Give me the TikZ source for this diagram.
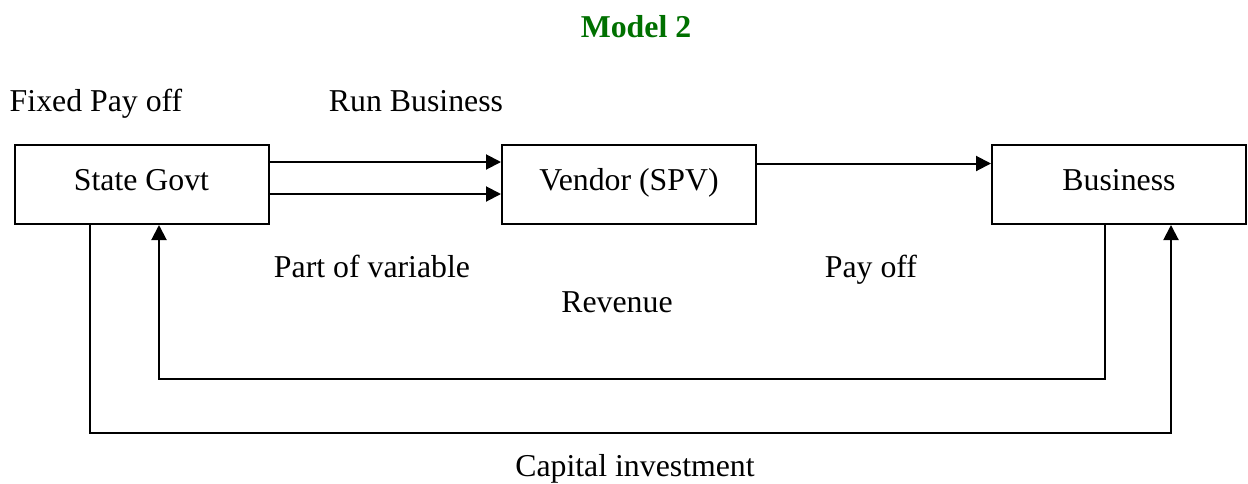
\documentclass[tikz,border=0pt]{standalone}
\usepackage{fontspec}
\setmainfont{Liberation Serif}
\usetikzlibrary{arrows.meta}
\definecolor{titlegreen}{RGB}{0,112,0}
\begin{document}
\begin{tikzpicture}[x=0.5pt,y=-0.5pt,font=\fontsize{15.9}{19}\selectfont]
        \tikzstyle{party}=[draw,line width=1pt,minimum width=127pt,minimum height=39.5pt,inner sep=0pt,text height=11pt,text depth=5.2pt]
        \tikzstyle{label}=[inner sep=0pt,text height=11pt,text depth=3.5pt]
        \tikzstyle{flow}=[draw,line width=1pt,-{Triangle[length=7.5pt,width=7.5pt]}]
        \useasboundingbox (0,0) rectangle (1248,483);
        \node [label,font=\fontsize{15.9}{19}\selectfont\bfseries,text=titlegreen] (title) at (636,30) {Model 2};
        \node [party] (sg) at (141.5,184.5) {State Govt};
        \node [party] (vd) at (629,184.5) {Vendor (SPV)};
        \node [party] (bz) at (1119,184.5) {Business};
        \node [label] (fixed) at (96,104) {Fixed Pay off};
        \node [label] (run) at (416,104) {Run Business};
        \node [label] (part) at (372,270) {Part of variable};
        \node [label] (payoff) at (871,270) {Pay off};
        \node [label] (rev) at (617,305) {Revenue};
        \node [label] (cap) at (635,469) {Capital investment};
        \path[flow] ([yshift=11.25pt]sg.east) -- ([yshift=11.25pt]vd.west);
        \path[flow] ([yshift=-4.75pt]sg.east) -- ([yshift=-4.75pt]vd.west);
        \path[flow] ([yshift=10.5pt]vd.east) -- ([yshift=10.5pt]bz.west);
        \path[flow] ([xshift=-7pt]bz.south) -- ++(0,154) -| ([xshift=8.75pt]sg.south);
        \path[flow] ([xshift=-25.75pt]sg.south) -- ++(0,208) -| ([xshift=26pt]bz.south);
      \end{tikzpicture}
\end{document}
